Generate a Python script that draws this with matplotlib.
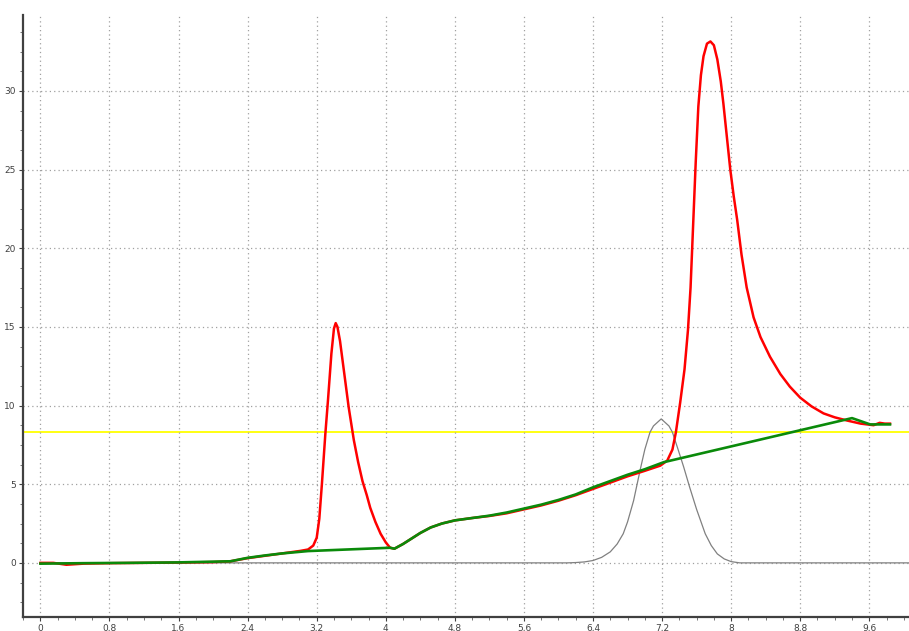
import matplotlib
matplotlib.use("Agg")
import matplotlib.pyplot as plt
from matplotlib.ticker import MultipleLocator, FuncFormatter

# Red measured signal
red_x = [0.0, 0.15, 0.3, 0.5, 0.8, 1.2, 1.6, 2.0, 2.2, 2.4, 2.6, 2.8, 3.01, 3.1, 3.16,
         3.20, 3.23, 3.26, 3.30, 3.33, 3.37, 3.40, 3.42, 3.44, 3.47, 3.52, 3.57, 3.63,
         3.68, 3.73, 3.78, 3.82, 3.88, 3.94, 4.0, 4.05, 4.1, 4.2, 4.3, 4.4, 4.52, 4.65,
         4.8, 5.0, 5.2, 5.4, 5.6, 5.8, 6.0, 6.2, 6.4, 6.6, 6.8, 7.0, 7.18, 7.26, 7.32,
         7.36, 7.41, 7.46, 7.50, 7.53, 7.56, 7.59, 7.62, 7.65, 7.68, 7.72, 7.76, 7.80,
         7.84, 7.88, 7.91, 7.95, 7.99, 8.03, 8.07, 8.12, 8.18, 8.26, 8.34, 8.45, 8.57,
         8.68, 8.80, 8.93, 9.07, 9.2, 9.34, 9.5, 9.65, 9.72, 9.78, 9.84]
red_y = [0.0, 0.0, -0.12, -0.05, -0.02, 0.0, 0.02, 0.05, 0.1, 0.3, 0.45, 0.6, 0.76, 0.85, 1.1,
         1.6, 2.8, 5.0, 8.2, 10.3, 13.3, 14.9, 15.24, 15.0, 14.1, 12.0, 9.9, 7.8,
         6.4, 5.2, 4.3, 3.5, 2.6, 1.85, 1.3, 0.96, 0.9, 1.2, 1.55, 1.9, 2.25, 2.5,
         2.7, 2.85, 2.98, 3.15, 3.4, 3.65, 3.95, 4.3, 4.7, 5.1, 5.5, 5.85, 6.18, 6.5, 7.2,
         8.3, 10.2, 12.3, 14.8, 17.5, 21.5, 25.5, 29.0, 31.0, 32.2, 33.0, 33.14, 32.9,
         32.0, 30.6, 29.2, 27.1, 25.0, 23.3, 21.8, 19.6, 17.5, 15.6, 14.35, 13.1, 12.0,
         11.2, 10.5, 9.95, 9.5, 9.25, 9.05, 8.85, 8.75, 8.9, 8.85, 8.85]

# Green baseline
green_x = [0.0, 0.5, 1.0, 1.6, 2.2, 2.4, 2.6, 2.8, 3.1, 4.05, 4.1, 4.2, 4.3, 4.4, 4.52,
           4.65, 4.8, 5.0, 5.2, 5.4, 5.6, 5.8, 6.0, 6.2, 6.4, 6.6, 6.8, 7.0, 7.22, 9.40,
           9.61, 9.84]
green_y = [-0.05, -0.02, 0.0, 0.03, 0.1, 0.32, 0.47, 0.6, 0.75, 0.96, 0.9, 1.2, 1.55, 1.9, 2.25,
           2.5, 2.7, 2.85, 3.0, 3.2, 3.45, 3.7, 4.0, 4.35, 4.8, 5.2, 5.6, 5.95, 6.4, 9.2,
           8.8, 8.8]

# Gray peak
gray_x = [0.0, 6.1, 6.2, 6.3, 6.4, 6.5, 6.6, 6.68, 6.75, 6.80, 6.87, 6.95, 7.00, 7.06, 7.10,
          7.19, 7.28, 7.32, 7.38, 7.45, 7.52, 7.60, 7.70, 7.77, 7.84, 7.92, 8.0, 8.1, 10.06]
gray_y = [0.0, 0.0, 0.02, 0.06, 0.15, 0.35, 0.7, 1.2, 1.85, 2.6, 3.95, 6.0, 7.2, 8.3, 8.7,
          9.15, 8.7, 8.3, 7.3, 6.1, 4.8, 3.4, 1.85, 1.1, 0.57, 0.25, 0.08, 0.0, 0.0]

# Yellow threshold
yellow_level = 8.3

x_ticks = [0, 0.8, 1.6, 2.4, 3.2, 4.0, 4.8, 5.6, 6.4, 7.2, 8.0, 8.8, 9.6]
y_ticks = [0, 5, 10, 15, 20, 25, 30]

fig = plt.figure(figsize=(9.09, 6.31), dpi=100)
ax = fig.add_axes([0.025, 0.0227, 0.975, 0.9535])

ax.axhline(yellow_level, color="#ffff00", lw=1.3, zorder=1)
ax.plot(gray_x, gray_y, color="#808080", lw=0.9, zorder=2)
ax.plot(red_x, red_y, color="#ff0000", lw=1.8, zorder=3)
ax.plot(green_x, green_y, color="#0a8a0a", lw=1.9, zorder=4)

ax.set_xlim(-0.205, 10.06)
ax.set_ylim(-3.42, 34.82)

ax.set_xticks(x_ticks)
ax.set_yticks(y_ticks)
ax.xaxis.set_minor_locator(MultipleLocator(0.2))
ax.yaxis.set_minor_locator(MultipleLocator(1.25))

def fmt(v, pos):
    s = ("%.1f" % v).rstrip("0").rstrip(".")
    return s.replace(".", ",")

ax.xaxis.set_major_formatter(FuncFormatter(fmt))
ax.yaxis.set_major_formatter(FuncFormatter(fmt))

ax.grid(True, which="major", color="#a0a0a0", linestyle=(0, (1, 2.5)), lw=0.9)
for s in ["top", "right"]:
    ax.spines[s].set_visible(False)
for s in ["left", "bottom"]:
    ax.spines[s].set_color("#404040")
    ax.spines[s].set_linewidth(1.6)

ax.tick_params(which="major", direction="out", length=3, width=0.8, color="#404040",
               labelsize=6.5, labelcolor="#404040", pad=2)
ax.tick_params(which="minor", direction="out", length=2, width=0.6, color="#606060")

fig.savefig("out.png", dpi=100)
